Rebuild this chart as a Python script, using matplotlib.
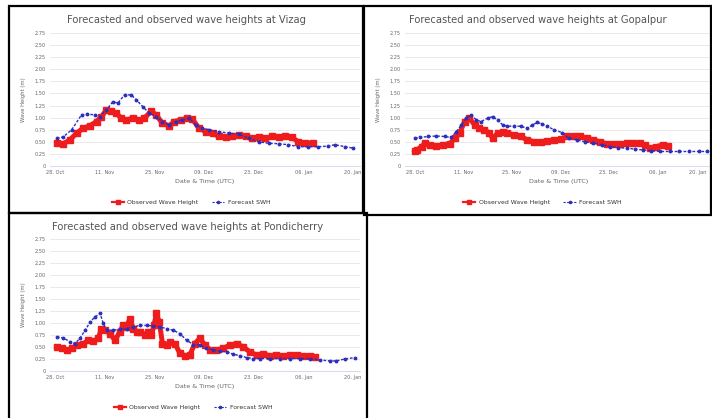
import matplotlib
matplotlib.use('Agg')
import matplotlib.pyplot as plt
from matplotlib.patches import Rectangle
from matplotlib.lines import Line2D

# x values are days after the first tick (28 Oct), y values are wave heights in metres
tick_days = [0, 14, 28, 42, 56, 70, 84]
tick_labels = ['28. Oct', '11. Nov', '25. Nov', '09. Dec', '23. Dec', '06. Jan', '20. Jan']
y_ticks = [0, 0.25, 0.5, 0.75, 1.0, 1.25, 1.5, 1.75, 2.0, 2.25, 2.5, 2.75]

# Vizag
vizag_fc_day = [0.5, 2.3, 4.7, 7.5, 8.9, 11.2, 12.6, 14.5, 16.3, 17.7, 19.6, 21.5, 22.9, 24.7,
                26.6, 28.5, 30.3, 32.2, 34.0, 35.9, 37.8, 39.7, 41.5, 43.4, 46.2, 49.0, 51.8,
                54.6, 57.4, 60.2, 63.0, 65.8, 68.6, 71.4, 74.2, 77.0, 78.9, 81.7, 84.0]
vizag_fc = [0.57, 0.60, 0.75, 1.06, 1.07, 1.06, 1.02, 1.16, 1.33, 1.30, 1.47, 1.47, 1.37, 1.23,
            1.09, 1.02, 0.92, 0.85, 0.92, 0.95, 0.99, 0.85, 0.78, 0.75, 0.71, 0.68, 0.66,
            0.57, 0.50, 0.47, 0.46, 0.44, 0.40, 0.40, 0.40, 0.41, 0.44, 0.40, 0.37]
vizag_obs_day = [0.5, 2.3, 4.2, 6.1, 7.9, 9.8, 11.7, 13.1, 14.5, 15.9, 17.3, 18.7, 20.1, 21.9,
                 23.8, 25.2, 27.1, 28.5, 30.3, 32.2, 33.6, 35.5, 37.3, 38.7, 40.6, 42.5, 44.4,
                 46.2, 48.1, 50.0, 51.8, 53.7, 55.6, 57.4, 59.3, 61.2, 63.0, 64.9, 66.8, 68.6,
                 70.5, 72.8]
vizag_obs = [0.47, 0.46, 0.54, 0.68, 0.78, 0.83, 0.92, 1.02, 1.16, 1.13, 1.09, 0.99, 0.95, 0.99,
             0.95, 0.99, 1.13, 1.06, 0.88, 0.83, 0.92, 0.95, 0.99, 0.97, 0.78, 0.71, 0.68,
             0.61, 0.59, 0.61, 0.64, 0.61, 0.57, 0.59, 0.57, 0.61, 0.59, 0.62, 0.59, 0.50,
             0.47, 0.48]

# Gopalpur
gopal_fc_day = [0.0, 1.4, 3.8, 6.2, 8.6, 10.5, 11.9, 13.4, 14.8, 16.2, 17.7, 19.1, 21.0, 22.4,
                23.9, 25.3, 26.7, 28.6, 30.5, 32.4, 33.9, 35.3, 36.7, 38.2, 40.1, 42.5, 44.4,
                46.8, 49.1, 51.5, 53.9, 56.3, 58.7, 61.1, 63.5, 65.8, 68.2, 70.6, 73.5, 76.3,
                79.2, 82.1, 84.4]
gopal_fc = [0.57, 0.59, 0.61, 0.62, 0.61, 0.59, 0.71, 0.85, 0.99, 1.06, 0.95, 0.92, 0.99, 1.02,
            0.95, 0.85, 0.82, 0.83, 0.82, 0.78, 0.85, 0.90, 0.87, 0.82, 0.75, 0.69, 0.57,
            0.54, 0.50, 0.47, 0.44, 0.40, 0.38, 0.37, 0.35, 0.33, 0.32, 0.30, 0.30, 0.30,
            0.30, 0.30, 0.30]
gopal_obs_day = [0.0, 0.5, 1.9, 2.9, 4.3, 6.2, 8.1, 10.0, 11.5, 12.9, 14.3, 15.7, 17.2, 18.6,
                 20.0, 21.5, 22.4, 23.9, 25.3, 26.7, 28.6, 30.5, 32.4, 34.4, 36.3, 38.2, 40.1,
                 42.0, 43.9, 45.8, 47.7, 49.6, 51.5, 53.4, 55.3, 57.3, 59.2, 61.1, 63.0, 64.9,
                 66.3, 67.7, 69.7, 71.6, 73.0]
gopal_obs = [0.30, 0.33, 0.40, 0.47, 0.44, 0.41, 0.44, 0.46, 0.57, 0.68, 0.92, 0.99, 0.85, 0.78,
             0.75, 0.68, 0.57, 0.68, 0.71, 0.68, 0.64, 0.61, 0.54, 0.50, 0.50, 0.52, 0.53,
             0.55, 0.61, 0.62, 0.61, 0.57, 0.54, 0.50, 0.46, 0.46, 0.46, 0.47, 0.47, 0.47,
             0.44, 0.37, 0.40, 0.44, 0.41]

# Pondicherry
pondy_fc_day = [0.5, 2.3, 4.2, 5.6, 7.0, 8.5, 9.9, 11.3, 12.7, 13.6, 14.6, 16.4, 18.3, 20.2,
                22.1, 23.9, 25.8, 27.7, 29.6, 31.5, 33.3, 35.2, 37.1, 39.0, 40.8, 42.7, 44.6,
                46.5, 48.4, 50.2, 52.1, 54.0, 55.9, 57.7, 60.6, 63.4, 66.2, 69.0, 71.8, 74.6,
                77.5, 79.3, 81.7, 84.5]
pondy_fc = [0.71, 0.69, 0.61, 0.57, 0.68, 0.85, 1.02, 1.13, 1.20, 0.99, 0.85, 0.85, 0.87, 0.88,
            0.92, 0.95, 0.95, 0.94, 0.92, 0.88, 0.85, 0.78, 0.64, 0.55, 0.54, 0.47, 0.44,
            0.41, 0.40, 0.35, 0.32, 0.28, 0.26, 0.26, 0.26, 0.26, 0.26, 0.26, 0.26, 0.23,
            0.21, 0.21, 0.25, 0.28]
pondy_obs_day = [0.5, 1.9, 3.3, 4.7, 6.1, 8.0, 9.4, 10.8, 12.2, 13.1, 14.1, 15.5, 16.9, 18.3,
                 19.2, 20.2, 21.1, 22.1, 23.0, 23.9, 25.4, 26.3, 27.2, 27.9, 28.6, 29.4, 30.3,
                 31.5, 32.4, 33.8, 35.2, 36.6, 38.0, 39.4, 40.8, 42.3, 43.7, 45.5, 47.4, 49.3,
                 51.2, 53.1, 54.9, 56.8, 58.7, 60.6, 62.4, 64.3, 66.2, 68.1, 70.0, 71.8, 73.2]
pondy_obs = [0.50, 0.47, 0.44, 0.47, 0.54, 0.57, 0.64, 0.62, 0.68, 0.88, 0.85, 0.78, 0.64, 0.82,
             0.95, 0.92, 1.09, 0.88, 0.82, 0.82, 0.76, 0.82, 0.75, 0.95, 1.20, 1.02, 0.57,
             0.54, 0.61, 0.57, 0.37, 0.32, 0.33, 0.57, 0.68, 0.54, 0.44, 0.44, 0.47, 0.54,
             0.57, 0.50, 0.40, 0.33, 0.35, 0.32, 0.33, 0.32, 0.33, 0.33, 0.32, 0.32, 0.30]

RED = '#ee1c1c'
BLUE = '#2e2ebf'
TXT = '#666666'

W, H = 712, 418
fig = plt.figure(figsize=(W / 100, H / 100), dpi=100)


def fx(x):
    return x / W


def fy(y):
    return 1 - y / H


def panel(box, plot, title, fc_day, fc, obs_day, obs, last_right=False):
    # box: chart frame (left, top, right, bottom) in pixels
    # plot: plot area (left, top, right, bottom, x of day 0, x of day 84)
    bl, bt, br, bb = box
    fig.patches.append(Rectangle((fx(bl), fy(bb)), fx(br - bl), (bb - bt) / H,
                                 transform=fig.transFigure, fill=False,
                                 edgecolor='black', linewidth=1.6))
    pl, pt, pr, pb, x0, x84 = plot
    ax = fig.add_axes([fx(pl), fy(pb), fx(pr - pl), (pb - pt) / H])
    scale = (x84 - x0) / 84.0
    ax.set_xlim((pl - x0) / scale, (pr - x0) / scale)
    ax.set_ylim(0, 2.75)

    ax.plot(obs_day, obs, color=RED, linewidth=3.6, marker='s', markersize=4.2,
            label='Observed Wave Height', zorder=3, solid_joinstyle='round')
    ax.plot(fc_day, fc, color=BLUE, linewidth=1.0, linestyle=(0, (2, 1.2)), marker='o',
            markersize=1.8, label='Forecast SWH', zorder=4)

    ax.set_yticks(y_ticks)
    ax.set_yticklabels(['0'] + ['{:.2f}'.format(v) for v in y_ticks[1:]])
    ax.set_xticks(tick_days)
    ax.set_xticklabels(tick_labels)
    if last_right:
        ax.get_xticklabels()[-1].set_horizontalalignment('right')
    ax.tick_params(axis='both', length=0, labelsize=3.6, colors=TXT)
    ax.tick_params(axis='y', pad=3)
    ax.tick_params(axis='x', pad=3)
    ax.grid(axis='y', color='#e6e6e6', linewidth=0.6)
    ax.set_axisbelow(True)
    for s in ['top', 'right', 'left']:
        ax.spines[s].set_visible(False)
    ax.spines['bottom'].set_color('#ccd6eb')
    ax.spines['bottom'].set_linewidth(0.6)

    ax.set_ylabel('Wave Height (m)', fontsize=3.8, color=TXT, labelpad=6)
    ax.set_xlabel('Date & Time (UTC)', fontsize=4.6, color=TXT, labelpad=3)

    cx = (bl + br) / 2
    fig.text(fx(cx), fy(bt + 14), title, ha='center', va='center', fontsize=7.2, color='#555555')
    handles = [Line2D([], [], color=RED, linewidth=1.6, marker='s', markersize=2.5),
               Line2D([], [], color=BLUE, linewidth=0.8, linestyle=(0, (2, 1.2)),
                      marker='o', markersize=1.6)]
    fig.legend(handles, ['Observed Wave Height', 'Forecast SWH'], loc='center',
               bbox_to_anchor=(fx(cx + 5), fy(pb + 36)), ncol=2, frameon=False,
               fontsize=4.4, labelcolor='#333333', handlelength=2.0, columnspacing=2.2,
               handletextpad=0.6)
    return ax


panel((9, 6, 363, 213), (50, 33, 360, 166, 55, 353),
      'Forecasted and observed wave heights at Vizag',
      vizag_fc_day, vizag_fc, vizag_obs_day, vizag_obs)
panel((364, 6, 711, 215), (405, 33, 712, 166, 415, 706),
      'Forecasted and observed wave heights at Gopalpur',
      gopal_fc_day, gopal_fc, gopal_obs_day, gopal_obs, last_right=True)
panel((9, 213, 367, 420), (50, 239, 360, 371, 55, 353),
      'Forecasted and observed wave heights at Pondicherry',
      pondy_fc_day, pondy_fc, pondy_obs_day, pondy_obs)

fig.savefig('out.png', dpi=100)
